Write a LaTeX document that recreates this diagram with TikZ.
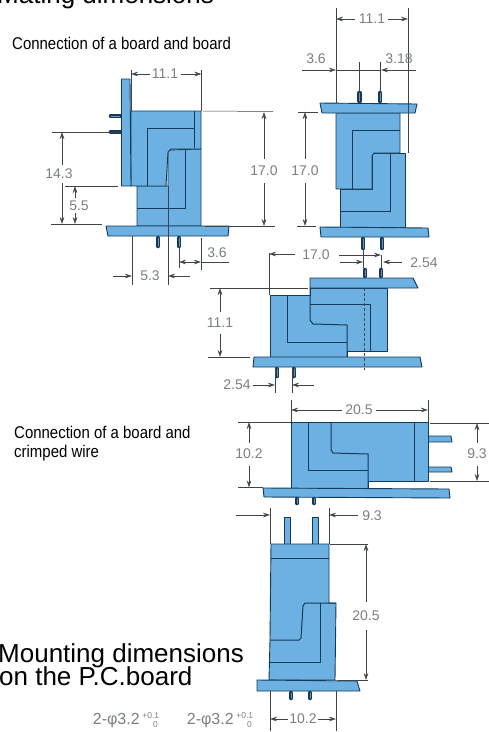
\documentclass[tikz,border=0pt]{standalone}
\usepackage{fontspec}
\setmainfont{Liberation Sans}
\usetikzlibrary{arrows.meta}
\definecolor{partblue}{HTML}{6DB1E2}
\definecolor{partline}{HTML}{123A5C}
\definecolor{dimgray}{HTML}{3F4448}
\definecolor{dimtext}{HTML}{7A7F82}
\newcommand{\holetext}{2-φ3.2\,\raisebox{5.5pt}{\fontsize{8.5}{8.5}\selectfont +0.1}\llap{\raisebox{-3pt}{\fontsize{8.5}{8.5}\selectfont 0\,}}}
\tikzset{
  part/.style={fill=partblue,draw=partline,line width=0.9pt,line join=round},
  seam/.style={draw=partline,line width=1pt},
  pin/.style={draw=partline,double=partblue!40!gray,double distance=1pt,line width=1.8pt,line cap=round},
  dimline/.style={draw=dimgray,line width=0.5pt,>={Stealth[length=7pt,width=4.5pt]}},
  dimlabel/.style={text=dimtext,font=\fontsize{14}{14}\selectfont,inner sep=0.5pt},
  holelabel/.style={text=dimtext,font=\fontsize{16}{16}\selectfont,inner sep=0pt},
  caption/.style={text=black,font=\fontsize{17}{17}\selectfont\addfontfeatures{FakeStretch=0.88},align=left,inner sep=0pt,anchor=base west},
  heading/.style={text=black,font=\fontsize{26}{26}\selectfont,align=left,inner sep=0pt,anchor=base west},
}
\begin{document}
\begin{tikzpicture}[x=1pt,y=-1pt]
  \useasboundingbox (0,0) rectangle (489,732);
  % captions
  \node[heading] (titleMating) at (-3,3) {Mating dimensions};
  \node[caption] (capBoard) at (12,49) {Connection of a board and board};
  \node[caption] (capWireA) at (14,438) {Connection of a board and};
  \node[caption] (capWireB) at (14,457) {crimped wire};
  \node[heading] (titleMountA) at (-2,662) {Mounting dimensions};
  \node[heading] (titleMountB) at (-1,685) {on the P.C.board};

  % first view
  \draw[pin](111,116)--(120,116);
  \draw[pin](111,132)--(120,132);
  \draw[pin](158,238)--(158,246);
  \draw[pin](179,238)--(179,246);
  \draw[part](137,186)--(168,186)--(168,150)--(201,149)--(201,226)--(137,226)--cycle;
  \draw[part](131,111)--(201,111)--(201,149)--(171,149)--(168,152)--(166,186)--(131,186)--cycle;
  \draw[seam](194,111)--(194,148);
  \draw[seam](147,186)--(147,128)--(194,128);
  \draw[seam](137,208)--(185,208)--(185,150);
  \draw[part](121.5,79)--(130,79)--(131,186)--(121.5,186)--cycle;
  \draw[part](106,226)--(229,226)--(228,236)--(108,236)--cycle;

  \draw[dimline](131,70)--(131,111);
  \draw[dimline](201.5,70)--(201.5,111);
  \draw[dimline,->](150,74)--(131,74);
  \draw[dimline,->](181,74)--(201.5,74);
  \node[dimlabel] (dimWidthA) at (165,74) {11.1};
  \draw[dimline](52,132)--(121,132);
  \draw[dimline](51,224)--(102,224);
  \draw[dimline](65,186)--(118,186);
  \draw[dimline,->](62,165)--(62,132);
  \draw[dimline,->](62,183)--(62,224);
  \node[dimlabel] (dimHeightA) at (59,174) {14.3};
  \draw[dimline,->](75,198)--(75,186);
  \draw[dimline,->](75,213)--(75,224);
  \node[dimlabel] (dimHeightB) at (79,206) {5.5};
  \draw[dimline](179,248)--(179,268);
  \draw[dimline](201,238)--(201,270);
  \draw[dimline,<->](179,262)--(201,262);
  \draw[dimline](201,262)--(229,262);
  \node[dimlabel] (dimPitchA) at (217,253) {3.6};
  \draw[dimline](132,236)--(132,285);
  \draw[dimline](168,186)--(168,285);
  \draw[dimline,->](113,276)--(132,276);
  \draw[dimline,->](190,276)--(168,276);
  \node[dimlabel] (dimOffsetA) at (150,276) {5.3};

  % second view
  \draw[pin](359.5,93)--(359.5,101);
  \draw[pin](380,93)--(380,101);
  \draw[pin](363,239)--(363,248);
  \draw[pin](382,239)--(382,248);
  \draw[part](340,189)--(372,189)--(372,153)--(405,153)--(405,227)--(340,227)--cycle;
  \draw[part](336,113)--(400,113)--(400,153)--(374,153)--(372,156)--(372,189)--(336,189)--cycle;
  \draw[seam](352,189)--(352,130)--(400,130);
  \draw[seam](340,211)--(390,211)--(390,153);
  \draw[part](320,103)--(417,104)--(415,113)--(322,113)--cycle;
  \draw[part](320,227)--(428,228)--(429,237)--(321,237)--cycle;

  \draw[dimline](336,8)--(336,103);
  \draw[dimline](408,8)--(408,153);
  \draw[dimline,->](355,19)--(336,19);
  \draw[dimline,->](388,19)--(408,19);
  \node[dimlabel] (dimWidthB) at (372,19) {11.1};
  \draw[dimline,->](302,70)--(336,70);
  \draw[dimline](336,70)--(381,70);
  \draw[dimline,->](416,70)--(381,70);
  \draw[dimline](359.5,62)--(359.5,91);
  \draw[dimline](380,62)--(380,91);
  \node[dimlabel] (dimPitchB) at (316,59) {3.6};
  \node[dimlabel] (dimPitchC) at (399,59) {3.18};
  \draw[dimline](203,111)--(273,111.5);
  \draw[dimline](298,112)--(318,112);
  \draw[dimline](205,226)--(275,226);
  \draw[dimline](297,226)--(316,226);
  \draw[dimline,->](264,159)--(264,112);
  \draw[dimline,->](264,183)--(264,226);
  \node[dimlabel] (dimHeightC) at (264,171) {17.0};
  \draw[dimline,->](305,159)--(305,112);
  \draw[dimline,->](305,183)--(305,226);
  \node[dimlabel] (dimHeightD) at (305,171) {17.0};

  % third view
  \draw[pin](365,270)--(365,276);
  \draw[pin](381,270)--(381,276);
  \draw[pin](277,369)--(277,376);
  \draw[pin](294,369)--(294,376);
  \draw[part](270,295)--(310,295)--(310,288)--(387,288)--(387,351)--(347,351)--(347,357)--(270,357)--cycle;
  \draw[seam](287,295)--(287,342)--(347,342);
  \draw[seam](310,288)--(310,320)--(313,324)--(347,325)--(347,357);
  \draw[seam](310,304)--(370,304)--(370,351);
  \draw[part](310,278)--(413,278)--(418,288)--(310,288)--cycle;
  \draw[part](254,357)--(420,357)--(422,367)--(253,367)--cycle;
  \draw[dimline,densely dashed](364.5,288)--(364.5,370);

  \draw[dimline](269,253)--(269,295);
  \draw[dimline,->](295,254)--(269,254);
  \draw[dimline,->](339,255)--(381,255);
  \draw[dimline](381,255)--(381,268);
  \node[dimlabel] (dimDepthA) at (316,255) {17.0};
  \draw[dimline](363,249)--(363,268);
  \draw[dimline,->](340,262)--(363,262);
  \draw[dimline,->](402,262)--(383,262);
  \node[dimlabel] (dimPitchD) at (424,263) {2.54};
  \draw[dimline](210,288)--(308,288);
  \draw[dimline](208,357)--(250,357);
  \draw[dimline,->](220,312)--(220,288);
  \draw[dimline,->](220,334)--(220,357);
  \node[dimlabel] (dimHeightE) at (220,323) {11.1};
  \draw[dimline](275,367)--(275,393);
  \draw[dimline](292,367)--(292,393);
  \draw[dimline,->](253,385)--(275,385);
  \draw[dimline,->](314,385)--(292,385);
  \node[dimlabel] (dimPitchE) at (237,385) {2.54};

  % fourth view
  \draw[part](428,436)--(451,436)--(452,442)--(428,442)--cycle;
  \draw[part](428,467)--(451,467)--(452,472)--(428,472)--cycle;
  \draw[pin](297,499)--(297,503);
  \draw[pin](314,499)--(314,503);
  \draw[part](291,422)--(428,422)--(428,481)--(368,481)--(368,488)--(291,488)--cycle;
  \draw[seam](414,422)--(414,481);
  \draw[seam](308,422)--(308,470)--(368,470);
  \draw[seam](331,422)--(331,450)--(333,453)--(368,454)--(368,488);
  \draw[part](263,488)--(449,489)--(450,498)--(264,497)--cycle;

  \draw[dimline](291,400)--(291,422);
  \draw[dimline](428,400)--(428,422);
  \draw[dimline,->](342,410)--(291,410);
  \draw[dimline,->](376,410)--(428,410);
  \node[dimlabel] (dimDepthB) at (359,410) {20.5};
  \draw[dimline](238,422)--(291,422);
  \draw[dimline](238,487.5)--(263,487.5);
  \draw[dimline,->](249,443)--(249,422);
  \draw[dimline,->](249,466)--(249,487.5);
  \node[dimlabel] (dimHeightF) at (249,454) {10.2};
  \draw[dimline](430,423)--(489,423);
  \draw[dimline](430,481)--(489,481);
  \draw[dimline,->](477,443)--(477,423);
  \draw[dimline,->](477,466)--(477,481);
  \node[dimlabel] (dimPitchF) at (477,454) {9.3};

  % fifth view
  \draw[part](284,517)--(290,517)--(290,544)--(284,544)--cycle;
  \draw[part](312,517)--(318,517)--(318,544)--(312,544)--cycle;
  \draw[pin](291,693)--(291,698);
  \draw[pin](310,693)--(310,698);
  \draw[part](271,544)--(329,544)--(329,603)--(336,603)--(335,680)--(269,680)--(270,640)--cycle;
  \draw[seam](271,558)--(329,558);
  \draw[seam](336,603)--(305,603)--(303,606)--(301,638)--(299,640)--(270,640);
  \draw[seam](320,603)--(320,662)--(270,662);
  \draw[part](257,680)--(357,681)--(360,691)--(257,691)--cycle;

  \draw[dimline](270,508)--(270,544);
  \draw[dimline](329,508)--(329,544);
  \draw[dimline,->](236,515)--(270,515);
  \draw[dimline,->](358,515)--(329,515);
  \node[dimlabel] (dimPitchG) at (372,516) {9.3};
  \draw[dimline](330,544)--(368,544);
  \draw[dimline](338,680)--(368,680);
  \draw[dimline,->](366,602)--(366,544);
  \draw[dimline,->](366,630)--(366,680);
  \node[dimlabel] (dimDepthC) at (366,616) {20.5};
  \draw[dimline](270,691)--(270,731);
  \draw[dimline](336,691)--(336,731);
  \draw[dimline,->](288,719)--(270,719);
  \draw[dimline,->](318,719)--(336,719);
  \node[dimlabel] (dimWidthC) at (303,719) {10.2};
  \node[holelabel] (holeA) at (126,720) {\holetext};
  \node[holelabel] (holeB) at (220,720) {\holetext};
\end{tikzpicture}
\end{document}
